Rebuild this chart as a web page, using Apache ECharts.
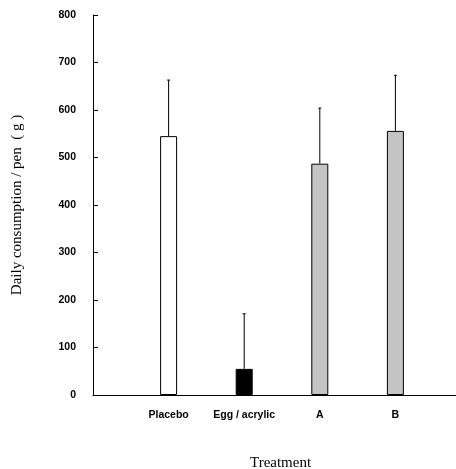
<!DOCTYPE html>
<html>
<head>
<meta charset="utf-8">
<script src="https://cdn.jsdelivr.net/npm/echarts@6/dist/echarts.min.js"></script>
<style>html,body{margin:0;padding:0;background:#fff;}#c{width:456px;height:469px;}</style>
</head>
<body>
<div id="c"></div>
<script>
var categories = ["", "Placebo", "Egg / acrylic", "A", "B", ""];
var means = [null, 545, 55, 487, 556, null];
var upper = [null, 663, 171, 604, 673, null];
var barColors = ["#fff", "#ffffff", "#000000", "#c4c4c4", "#c4c4c4", "#fff"];
var yTicks = [0, 100, 200, 300, 400, 500, 600, 700, 800];

var chart = echarts.init(document.getElementById('c'));
var barData = means.map(function (v, i) {
  return v == null ? null : { value: v, itemStyle: { color: barColors[i] } };
});
var errData = [];
means.forEach(function (v, i) { if (v != null) errData.push([i, v, upper[i]]); });

chart.setOption({
  animation: false,
  backgroundColor: '#ffffff',
  title: {
    text: 'Treatment', left: 245, top: 451,
    textStyle: { fontFamily: 'Liberation Serif', fontSize: 15, fontWeight: 'normal', color: '#000' }
  },
  grid: { left: 93, right: -15, top: 15, bottom: 74, outerBoundsMode: 'none', containLabel: false },
  xAxis: {
    type: 'category', data: categories, boundaryGap: false,
    axisLine: { lineStyle: { color: '#000', width: 1 } },
    axisTick: { show: false },
    axisLabel: { margin: 15, fontFamily: 'Liberation Sans', fontSize: 10.5, fontWeight: 'bold', color: '#000', interval: 0 },
    splitLine: { show: false }
  },
  yAxis: {
    type: 'value', min: yTicks[0], max: yTicks[yTicks.length - 1], interval: 100,
    name: 'Daily consumption / pen  ( g )', nameLocation: 'middle', nameGap: 68,
    nameTextStyle: { fontFamily: 'Liberation Serif', fontSize: 15, color: '#000' },
    axisLine: { show: true, lineStyle: { color: '#000', width: 1 } },
    axisTick: { show: true, inside: true, length: 5, lineStyle: { color: '#000' } },
    axisLabel: { margin: 17, fontFamily: 'Liberation Sans', fontSize: 10.5, fontWeight: 'bold', color: '#000' },
    splitLine: { show: false }
  },
  series: [
    {
      type: 'bar', data: barData, barWidth: 17,
      itemStyle: { borderColor: '#000', borderWidth: 1 }
    },
    {
      type: 'custom', data: errData, z: 3,
      renderItem: function (params, api) {
        var top = api.coord([api.value(0), api.value(1)]);
        var up = api.coord([api.value(0), api.value(2)]);
        return {
          type: 'group', children: [
            { type: 'line', shape: { x1: up[0], y1: top[1], x2: up[0], y2: up[1] }, style: { stroke: '#000', lineWidth: 1 } },
            { type: 'line', shape: { x1: up[0] - 1.5, y1: up[1], x2: up[0] + 1.5, y2: up[1] }, style: { stroke: '#000', lineWidth: 1 } }
          ]
        };
      }
    }
  ]
});
</script>
</body>
</html>
